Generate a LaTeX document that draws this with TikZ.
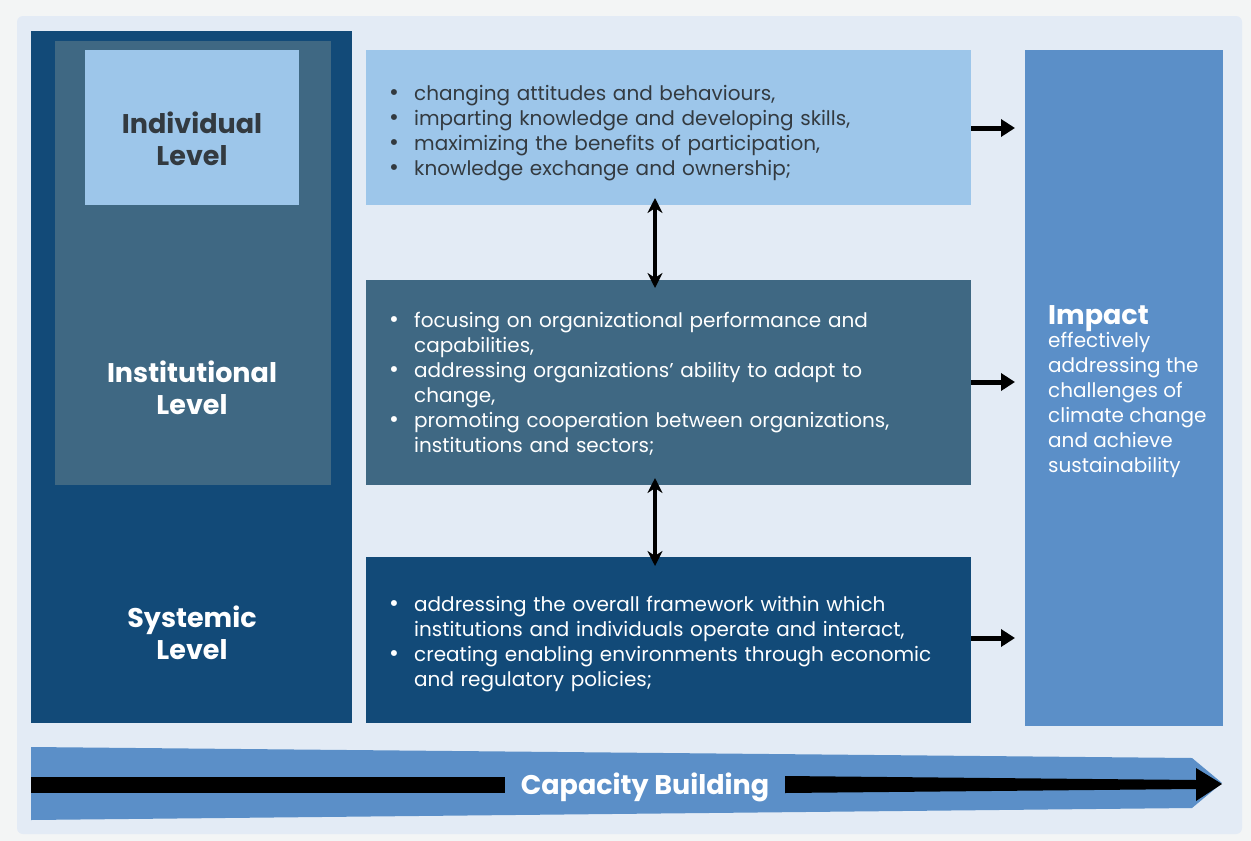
\documentclass[tikz,border=0pt]{standalone}
\usepackage{fontspec}
\setmainfont{Poppins}
\usetikzlibrary{arrows.meta}
\definecolor{pagebg}{HTML}{F3F5F5}
\definecolor{panel}{HTML}{E3EBF5}
\definecolor{dark}{HTML}{124A78}
\definecolor{mid}{HTML}{3F6883}
\definecolor{light}{HTML}{9DC6EA}
\definecolor{impact}{HTML}{5B8FC8}
\definecolor{txtdark}{HTML}{333A40}
\tikzset{
  box/.style={anchor=north west, inner sep=0pt, outer sep=0pt, draw=none},
  title/.style={font=\fontsize{27}{32}\selectfont\bfseries, align=center, inner sep=0pt},
  bullets/.style={anchor=north west, inner sep=0pt, text width=600pt, align=left, font=\fontsize{20}{25}\selectfont},
  rarrow/.style={line width=5pt, -{Triangle[length=14pt,width=17pt]}},
  dblarrow/.style={line width=4pt, {Stealth[length=15pt,width=15pt]}-{Stealth[length=15pt,width=15pt]}},
}
\newcommand{\bitem}[1]{\hangindent=25pt\hangafter=1\noindent\makebox[25pt][l]{\hspace*{0pt}{\fontsize{24}{25}\selectfont•}}#1\par}
\begin{document}
\begin{tikzpicture}[x=1pt,y=-1pt]
\fill[pagebg] (0,0) rectangle (1251,841);
\useasboundingbox (0,0) rectangle (1251,841);
\fill[panel, rounded corners=6pt] (17,16) rectangle (1242,834);

% left column
\node[box, fill=dark, minimum width=321pt, minimum height=692pt] (sys) at (31,31) {};
\node[box, fill=mid, minimum width=276pt, minimum height=444pt] (inst) at (55,41) {};
\node[box, fill=light, minimum width=214pt, minimum height=155pt] (ind) at (85,50) {};
\node[title, text=txtdark] (indt) at (192,139) {Individual\\Level};
\node[title, text=white] (instt) at (192,388) {Institutional\\Level};
\node[title, text=white] (syst) at (192,633) {Systemic\\Level};

% middle boxes
\node[box, fill=light, minimum width=605pt, minimum height=155pt] (top) at (366,50) {};
\node[box, fill=mid, minimum width=605pt, minimum height=205pt] (midb) at (366,280) {};
\node[box, fill=dark, minimum width=605pt, minimum height=166pt] (bot) at (366,557) {};

\node[bullets, text=txtdark] (toptxt) at (389,85) {%
\bitem{changing attitudes and behaviours,}
\bitem{imparting knowledge and developing skills,}
\bitem{maximizing the benefits of participation,}
\bitem{knowledge exchange and ownership;}};

\node[bullets, text=white] (midtxt) at (389,312) {%
\bitem{focusing on organizational performance and\newline capabilities,}
\bitem{addressing organizations’ ability to adapt to\newline change,}
\bitem{promoting cooperation between organizations,\newline institutions and sectors;}};

\node[bullets, text=white] (bottxt) at (389,596) {%
\bitem{addressing the overall framework within which\newline institutions and individuals operate and interact,}
\bitem{creating enabling environments through economic\newline and regulatory policies;}};

% impact
\node[box, fill=impact, minimum width=198pt, minimum height=676pt] (imp) at (1025,50) {};
\node[anchor=north west, inner sep=0pt, text=white, align=left, font=\fontsize{20}{25}\selectfont] (imptxt) at (1048,305)
  {{\fontsize{27}{27}\selectfont\bfseries Impact}\\[-2pt]effectively\\addressing the\\challenges of\\climate change\\and achieve\\sustainability};

% arrows to impact
\draw[rarrow, shorten >=10pt] (971,128) -- (imp.west |- 0,128);
\draw[rarrow, shorten >=10pt] (971,382) -- (imp.west |- 0,382);
\draw[rarrow, shorten >=10pt] (971,638) -- (imp.west |- 0,638);

% vertical double arrows
\draw[dblarrow, shorten <=-7pt, shorten >=-8pt] ([xshift=-13.5pt]top.south) -- ([xshift=-13.5pt]midb.north);
\draw[dblarrow, shorten <=-7pt, shorten >=-9pt] ([xshift=-13.5pt]midb.south) -- ([xshift=-13.5pt]bot.north);

% capacity building bar
\fill[impact] (31,747) -- (1192,758) -- (1222,783) -- (1192,808) -- (31,820) -- cycle;
\node[font=\fontsize{27}{29}\selectfont\bfseries, text=white, inner sep=0pt] (cb) at (645,787) {Capacity Building};
\fill[black] (31,777) rectangle (505,793);
\coordinate (cbend) at (1222,784);
\fill[black] (785,776) -- (1196,780) -- (1196,768) -- (cbend) -- (1196,801) -- (1196,789) -- (785,793) -- cycle;
\end{tikzpicture}
\end{document}
